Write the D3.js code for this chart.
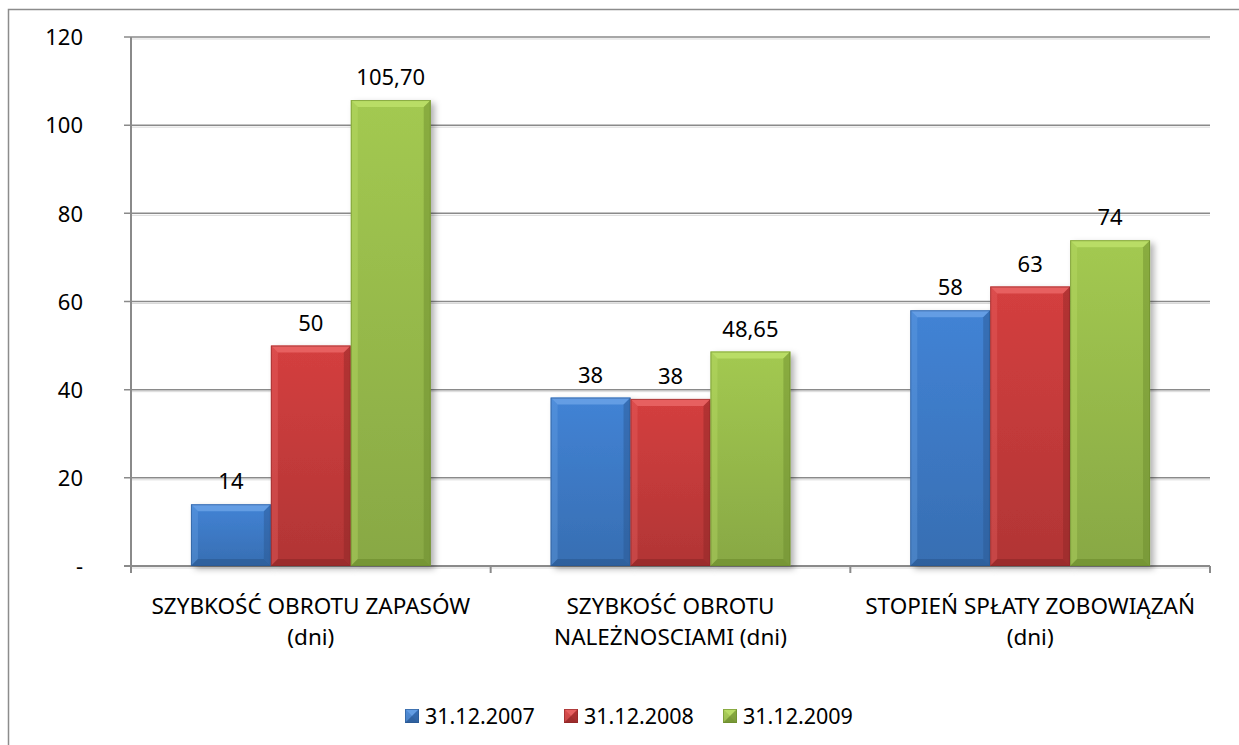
<!DOCTYPE html>
<html lang="pl">
	<head>
		<meta charset="utf-8">
		<title>Wskaźniki rotacji</title>
		<script src="https://d3js.org/d3.v7.min.js"></script>
		<style type="text/css">
body { margin: 0; background: #fff; }
text { font-family: "Noto Sans", "Open Sans", sans-serif; fill: #000; }
		</style>
	</head>
	<body>
<div id="chart"></div>
		<script type="text/javascript">
// data
var categories = [
  ["SZYBKOŚĆ OBROTU ZAPASÓW", "(dni)"],
  ["SZYBKOŚĆ OBROTU", "NALEŻNOSCIAMI (dni)"],
  ["STOPIEŃ SPŁATY ZOBOWIĄZAŃ", "(dni)"]
];
var seriesNames = ["31.12.2007", "31.12.2008", "31.12.2009"];
var values2007 = [14, 38.2, 58];
var values2008 = [50, 37.9, 63.4];
var values2009 = [105.7, 48.65, 73.9];
var labels2007 = ["14", "38", "58"];
var labels2008 = ["50", "38", "63"];
var labels2009 = ["105,70", "48,65", "74"];
var yTicks = [0, 20, 40, 60, 80, 100, 120];

var series = [
  {name: seriesNames[0], values: values2007, labels: labels2007, base: "#3c78c3", light: "#6aa2e6", dark: "#2a5690"},
  {name: seriesNames[1], values: values2008, labels: labels2008, base: "#c23a3a", light: "#ea6666", dark: "#8c2626"},
  {name: seriesNames[2], values: values2009, labels: labels2009, base: "#95b84a", light: "#bde06a", dark: "#6b8a2c"}
];

//Width and height
var w = 1239;
var h = 745;
var plotLeft = 131, plotRight = 1210, plotTop = 37, plotBottom = 566;

var svg = d3.select("#chart")
  .append("svg")
  .attr("width", w)
  .attr("height", h);

var defs = svg.append("defs");
series.forEach(function (s, i) {
  var g = defs.append("linearGradient").attr("id", "grad" + i)
    .attr("x1", 0).attr("y1", 0).attr("x2", 0).attr("y2", 1);
  g.append("stop").attr("offset", "0%").attr("stop-color", d3.color(s.base).brighter(0.25));
  g.append("stop").attr("offset", "100%").attr("stop-color", d3.color(s.base).darker(0.25));
});
var f = defs.append("filter").attr("id", "shadow")
  .attr("x", "-10%").attr("y", "-10%").attr("width", "130%").attr("height", "130%");
f.append("feDropShadow").attr("dx", 4).attr("dy", 3).attr("stdDeviation", 3)
  .attr("flood-color", "#000").attr("flood-opacity", 0.3);

// outer chart border
svg.append("path")
  .attr("d", "M8.5," + h + "V9.5H" + w)
  .attr("fill", "none")
  .attr("stroke", "#8c8c8c")
  .attr("stroke-width", 1.5);

//Create scale functions
var yScale = d3.scaleLinear()
  .domain([0, 120])
  .range([plotBottom, plotTop]);

var x0 = d3.scaleBand()
  .domain(d3.range(categories.length))
  .range([plotLeft, plotRight])
  .paddingInner(0)
  .paddingOuter(0);

var x1 = d3.scaleBand()
  .domain(d3.range(series.length))
  .range([0, x0.bandwidth()])
  .paddingInner(0)
  .paddingOuter(0.75);

// gridlines with a light shadow
var grid = svg.append("g");
grid.selectAll("line.sh")
  .data(yTicks.slice(1))
  .enter()
  .append("line")
  .attr("x1", plotLeft).attr("x2", plotRight)
  .attr("y1", d => yScale(d) + 2).attr("y2", d => yScale(d) + 2)
  .attr("stroke", "#d9d9d9").attr("stroke-width", 1);
grid.selectAll("line.gl")
  .data(yTicks.slice(1))
  .enter()
  .append("line")
  .attr("x1", plotLeft - 7).attr("x2", plotRight)
  .attr("y1", d => yScale(d)).attr("y2", d => yScale(d))
  .attr("stroke", "#8a8a8a").attr("stroke-width", 1.5);

//Define Y axis
var yAxis = d3.axisLeft(yScale)
  .tickValues(yTicks)
  .tickSize(0)
  .tickPadding(48)
  .tickFormat(d => d === 0 ? "-" : d);

var yG = svg.append("g")
  .attr("transform", "translate(" + plotLeft + ",0)")
  .call(yAxis);
yG.select(".domain").remove();
yG.selectAll("text")
  .style("font-size", "22px")
  .style("font-family", null)
  .attr("dy", "0.35em");

// axis lines
svg.append("line")
  .attr("x1", plotLeft).attr("x2", plotLeft)
  .attr("y1", plotTop).attr("y2", plotBottom + 7)
  .attr("stroke", "#8a8a8a").attr("stroke-width", 2);
svg.append("line")
  .attr("x1", plotLeft).attr("x2", plotRight)
  .attr("y1", plotBottom + 2).attr("y2", plotBottom + 2)
  .attr("stroke", "#d9d9d9").attr("stroke-width", 1);
svg.append("line")
  .attr("x1", plotLeft - 7).attr("x2", plotRight)
  .attr("y1", plotBottom).attr("y2", plotBottom)
  .attr("stroke", "#8a8a8a").attr("stroke-width", 2);
svg.selectAll("line.xt")
  .data(d3.range(categories.length + 1))
  .enter()
  .append("line")
  .attr("x1", d => plotLeft + d * x0.bandwidth())
  .attr("x2", d => plotLeft + d * x0.bandwidth())
  .attr("y1", plotBottom).attr("y2", plotBottom + 7)
  .attr("stroke", "#8a8a8a").attr("stroke-width", 2);

// bevelled bar
function bevelBar(g, x, y, bw, bh, s, i, shadow) {
  var b = Math.min(7, bh / 2, bw / 2);
  var bar = g.append("g");
  bar.append("rect")
    .attr("x", x).attr("y", y).attr("width", bw).attr("height", bh)
    .attr("fill", "url(#grad" + i + ")")
    .attr("filter", shadow ? "url(#shadow)" : null);
  var x2 = x + bw, y2 = y + bh;
  // top
  bar.append("polygon")
    .attr("points", [[x, y], [x2, y], [x2 - b, y + b], [x + b, y + b]].join(" "))
    .attr("fill", s.light).attr("opacity", 0.85);
  // left
  bar.append("polygon")
    .attr("points", [[x, y], [x + b, y + b], [x + b, y2 - b], [x, y2]].join(" "))
    .attr("fill", s.light).attr("opacity", 0.35);
  // right
  bar.append("polygon")
    .attr("points", [[x2, y], [x2, y2], [x2 - b, y2 - b], [x2 - b, y + b]].join(" "))
    .attr("fill", s.dark).attr("opacity", 0.45);
  // bottom
  bar.append("polygon")
    .attr("points", [[x, y2], [x + b, y2 - b], [x2 - b, y2 - b], [x2, y2]].join(" "))
    .attr("fill", s.dark).attr("opacity", 0.6);
  bar.append("rect")
    .attr("x", x + 0.5).attr("y", y + 0.5).attr("width", bw - 1).attr("height", bh - 1)
    .attr("fill", "none").attr("stroke", s.dark).attr("stroke-opacity", 0.6).attr("stroke-width", 1);
}

var bars = svg.append("g");
series.forEach(function (s, i) {
  s.values.forEach(function (v, c) {
    var x = x0(c) + x1(i);
    var y = yScale(v);
    bevelBar(bars, x, y, x1.bandwidth(), plotBottom - y, s, i, true);
  });
});

// data labels
series.forEach(function (s, i) {
  svg.selectAll("text.lab" + i)
    .data(s.values)
    .enter()
    .append("text")
    .attr("x", (d, c) => x0(c) + x1(i) + x1.bandwidth() / 2)
    .attr("y", d => yScale(d) - 15)
    .attr("text-anchor", "middle")
    .style("font-size", "22px")
    .text((d, c) => s.labels[c]);
});

// category labels
var cat = svg.selectAll("text.cat")
  .data(categories)
  .enter()
  .append("text")
  .attr("text-anchor", "middle")
  .style("font-size", "22.5px");
cat.each(function (lines, c) {
  d3.select(this).selectAll("tspan")
    .data(lines)
    .enter()
    .append("tspan")
    .attr("x", x0(c) + x0.bandwidth() / 2)
    .attr("y", (d, k) => 614 + k * 31)
    .text(d => d);
});

// legend
var legendX = [405, 564, 723];
var leg = svg.selectAll("g.leg")
  .data(series)
  .enter()
  .append("g")
  .attr("transform", (d, i) => "translate(" + legendX[i] + ",709)");
leg.each(function (s, i) {
  bevelBar(d3.select(this), 0, 0, 14, 14, s, i, false);
});
leg.append("text")
  .attr("x", 20)
  .attr("y", 7)
  .attr("dy", "0.36em")
  .style("font-size", "21.5px")
  .text(d => d.name);
		</script>
	</body>
</html>
